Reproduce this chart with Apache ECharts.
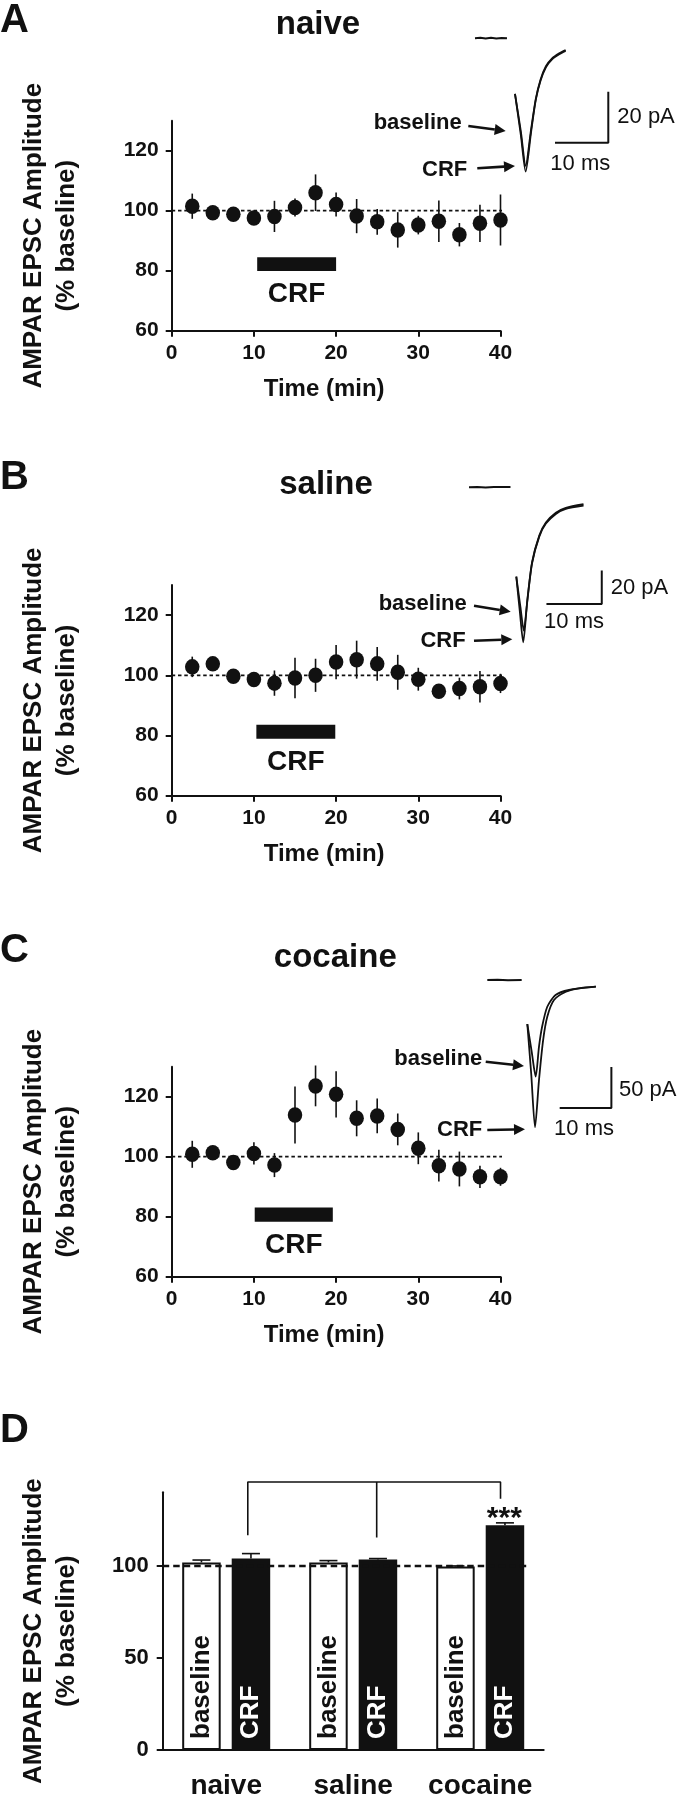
<!DOCTYPE html>
<html><head><meta charset="utf-8">
<script src="https://cdn.jsdelivr.net/npm/echarts@6/dist/echarts.min.js"></script>
<style>html,body{margin:0;padding:0;background:#fff}#c{width:679px;height:1800px}</style>
</head><body><div id="c"></div>
<script>
// ---------------- data ----------------
const times = [2.5, 5, 7.5, 10, 12.5, 15, 17.5, 20, 22.5, 25, 27.5, 30, 32.5, 35, 37.5, 40];
const naiveMean = [101.5, 99.3, 98.8, 97.6, 98.1, 101.1, 106.0, 102.1, 98.2, 96.3, 93.6, 95.2, 96.5, 92.0, 95.8, 96.9];
const naiveErr  = [4.2, 1.0, 1.0, 1.0, 5.2, 3.0, 6.1, 4.0, 5.7, 4.3, 5.9, 3.1, 6.9, 3.9, 6.2, 8.5];
const salineMean = [102.8, 103.8, 99.7, 98.6, 97.4, 99.1, 100.0, 104.4, 105.2, 103.8, 101.0, 98.7, 94.7, 95.6, 96.2, 97.3];
const salineErr  = [3.4, 1.5, 1.0, 1.0, 4.2, 6.7, 5.5, 5.7, 6.3, 5.6, 5.8, 3.8, 2.0, 3.6, 5.2, 3.2];
const cocaineMean = [100.8, 101.3, 98.1, 101.1, 97.2, 113.9, 123.6, 120.8, 112.8, 113.6, 109.1, 102.8, 97.0, 95.9, 93.3, 93.3];
const cocaineErr  = [4.5, 1.0, 1.0, 3.7, 4.0, 9.5, 6.8, 7.7, 6.0, 5.8, 5.3, 5.3, 5.3, 5.8, 3.7, 3.0];

const timeTicks = [0, 10, 20, 30, 40];
const ampTicks = [60, 80, 100, 120];
const barTicks = [0, 50, 100];

// CRF application bar (min, % baseline) per panel A, B, C
const crfStart = [10.4, 10.3, 10.1];
const crfEnd   = [20.0, 19.9, 19.6];
const crfLow   = [79.9, 78.9, 78.3];
const crfHigh  = [84.5, 83.6, 83.1];
const refLineX = [0, 41];
const refValue = 100;

// example EPSC traces: [time ms, current pA]
const naiveFlat = [[0, 0], [1, 0.15], [2, -0.1], [3, 0.15], [4, -0.1], [5, 0.1], [6, 0]];
const naiveBase = [[7.5, -21.8], [8.6, -36.5], [9.5, -50.0], [10.5, -36.0], [11.4, -23.8], [12.3, -16.2], [13.3, -11.0], [14.5, -7.8], [15.8, -5.9], [17.0, -4.6]];
const naiveCrf  = [[7.5, -21.8], [8.6, -38.0], [9.5, -52.3], [10.5, -37.1], [11.4, -24.2], [12.3, -16.6], [13.3, -11.4], [14.5, -8.2], [15.8, -6.3], [17.0, -5.0]];
const salineFlat = [[0, 0], [1.5, 0.2], [3, -0.2], [4.5, 0.2], [6, 0.1], [7.5, 0.2]];
const salineBase = [[8.55, -53.6], [9.3, -72.0], [9.9, -86.0], [10.6, -66.0], [11.4, -45.0], [12.7, -29.0], [13.9, -21.2], [15.7, -15.3], [17.5, -12.4], [20.7, -10.2]];
const salineCrf  = [[8.55, -53.6], [9.2, -75.0], [9.8, -93.0], [10.5, -69.6], [11.4, -45.6], [12.7, -29.6], [13.9, -21.8], [15.7, -16.0], [17.5, -13.0], [20.7, -11.0]];
const cocaineFlat = [[0, 0], [2, 0.3], [4, -0.3], [6.65, 0]];
const cocaineBase = [[7.74, -53.7], [8.6, -88.0], [9.36, -117.9], [10.0, -81.3], [10.6, -57.0], [11.6, -32.6], [13.2, -18.3], [15.8, -12.2], [21.0, -8.2]];
const cocaineCrf  = [[7.74, -53.7], [8.5, -115.0], [9.23, -179.6], [10.0, -122.0], [10.8, -73.2], [11.6, -44.8], [12.9, -24.4], [15.2, -14.3], [17.7, -10.1], [21.0, -8.2]];
// scale bars: [t0, t1] ms, [pA0, pA1]
const scaleT  = [[15, 25], [14, 24], [14, 24]];
const scalePA = [[-41, -21], [-70, -50], [-156, -106]];
const scaleLabelsPA = ['20 pA', '20 pA', '50 pA'];
const scaleLabelMs = '10 ms';

// panel D
const groups = ['naive', 'saline', 'cocaine'];
const baselineMean = [101.9, 101.9, 99.7];
const baselineErr  = [1.3, 1.0, 0.3];
const crfMean = [104.1, 103.5, 122.1];
const crfErr  = [2.6, 0.5, 1.3];
const bracketX = [0.67, 1.685, 2.66];        // position in category units
const bracketBottom = [116.7, 115.5, 136.5];
const bracketTop = 145.6;
const sigMark = { x: 2.69, y: 125.4, text: '***' };
const refLineBarX = [0, 2.866];

// ---------------- layout / style ----------------
const FONT = '"Liberation Sans", Arial, Helvetica, sans-serif';
const INK = '#111';
const timeGrids = [
  { left: 171.7, top: 120.7, width: 328.8, height: 210 },
  { left: 171.7, top: 585, width: 328.8, height: 210.7 },
  { left: 171.7, top: 1066.7, width: 328.8, height: 210 }
];
const traceGrids = [
  { left: 475, top: 25.5, width: 133.3, height: 153, y: [-55, 5] },
  { left: 469, top: 470.6, width: 138.3, height: 183.3, y: [-100, 10] },
  { left: 487.3, top: 971.8, width: 129.25, height: 164, y: [-190, 10] }
];
const barGrid = { left: 162.7, top: 1492.3, width: 381, height: 265.4 };

const means = [naiveMean, salineMean, cocaineMean];
const errs = [naiveErr, salineErr, cocaineErr];
const flats = [naiveFlat, salineFlat, cocaineFlat];
const bases = [naiveBase, salineBase, cocaineBase];
const crfs = [naiveCrf, salineCrf, cocaineCrf];

const grid = [], xAxis = [], yAxis = [], series = [];

function errRender(params, api) {
  const x = api.value(0), m = api.value(1), e = api.value(2);
  const p1 = api.coord([x, m - e]), p2 = api.coord([x, m + e]);
  return { type: 'line', shape: { x1: p1[0], y1: p1[1], x2: p2[0], y2: p2[1] },
           style: { stroke: INK, lineWidth: 1.6 } };
}

for (let k = 0; k < 3; k++) {
  grid.push(timeGrids[k]);
  xAxis.push({
    type: 'value', gridIndex: k, min: 0, max: 40, interval: 10,
    axisLine: { show: true, onZero: false, lineStyle: { color: INK, width: 2 } },
    axisTick: { show: true, length: 6, lineStyle: { color: INK, width: 2 }, customValues: timeTicks },
    axisLabel: { fontFamily: FONT, fontSize: 21, fontWeight: 'bold', color: INK, margin: 12, customValues: timeTicks },
    splitLine: { show: false },
    name: 'Time (min)', nameLocation: 'middle', nameGap: 47,
    nameTextStyle: { fontFamily: FONT, fontSize: 24, fontWeight: 'bold', color: INK, padding: [0, 24, 0, 0] }
  });
  yAxis.push({
    type: 'value', gridIndex: k, min: 60, max: 130, interval: 20,
    axisLine: { show: true, lineStyle: { color: INK, width: 2 } },
    axisTick: { show: true, length: 6, lineStyle: { color: INK, width: 2 }, customValues: ampTicks },
    axisLabel: { fontFamily: FONT, fontSize: 21, fontWeight: 'bold', color: INK, margin: 13, customValues: ampTicks },
    splitLine: { show: false },
    name: 'AMPAR EPSC Amplitude\n(% baseline)', nameLocation: 'middle', nameRotate: 90, nameGap: 88,
    nameTextStyle: { fontFamily: FONT, fontSize: 26, fontWeight: 'bold', color: INK, lineHeight: 33, padding: [0, 20, 0, 0] }
  });
  // dashed reference line
  series.push({
    type: 'line', xAxisIndex: k, yAxisIndex: k, symbol: 'none', silent: true, z: 2,
    data: refLineX.map(x => [x, refValue]),
    lineStyle: { color: INK, width: 1.8, type: [3.5, 2.8] }
  });
  // CRF bar
  series.push({
    type: 'custom', xAxisIndex: k, yAxisIndex: k, z: 3,
    data: [[crfStart[k], crfLow[k], crfEnd[k], crfHigh[k]]],
    encode: { x: [0, 2], y: [1, 3] },
    renderItem(params, api) {
      const p0 = api.coord([api.value(0), api.value(3)]);
      const p1 = api.coord([api.value(2), api.value(1)]);
      return { type: 'group', children: [
        { type: 'rect', shape: { x: p0[0], y: p0[1], width: p1[0] - p0[0], height: p1[1] - p0[1] }, style: { fill: INK } },
        { type: 'text', style: { text: 'CRF', x: (p0[0] + p1[0]) / 2, y: p1[1] + 23.5,
            align: 'center', verticalAlign: 'middle', textAlign: 'center', textVerticalAlign: 'middle',
            font: 'bold 28px ' + FONT, fill: INK } }
      ] };
    }
  });
  // error bars
  series.push({
    type: 'custom', xAxisIndex: k, yAxisIndex: k, z: 4,
    data: times.map((t, i) => [t, means[k][i], errs[k][i]]),
    encode: { x: 0, y: 1 },
    renderItem: errRender
  });
  // means
  series.push({
    type: 'scatter', xAxisIndex: k, yAxisIndex: k, z: 5,
    symbol: 'circle', symbolSize: [14.5, 15.5],
    itemStyle: { color: INK, opacity: 1 },
    data: times.map((t, i) => [t, means[k][i]])
  });
}

// trace insets
for (let k = 0; k < 3; k++) {
  const gi = 3 + k;
  const g = traceGrids[k];
  grid.push({ left: g.left, top: g.top, width: g.width, height: g.height });
  xAxis.push({ type: 'value', gridIndex: gi, min: 0, max: 25, show: false, splitLine: { show: false } });
  yAxis.push({ type: 'value', gridIndex: gi, min: g.y[0], max: g.y[1], show: false, splitLine: { show: false } });
  const common = { type: 'line', xAxisIndex: gi, yAxisIndex: gi, symbol: 'none', silent: true, clip: false };
  series.push(Object.assign({}, common, { data: flats[k], lineStyle: { color: INK, width: 2 } }));
  series.push(Object.assign({}, common, { data: bases[k], smooth: 0.25, lineStyle: { color: INK, width: 1.8 } }));
  series.push(Object.assign({}, common, { data: crfs[k], smooth: 0.25, lineStyle: { color: INK, width: 1.8 } }));
  series.push(Object.assign({}, common, {
    data: [[scaleT[k][0], scalePA[k][0]], [scaleT[k][1], scalePA[k][0]], [scaleT[k][1], scalePA[k][1]]],
    lineStyle: { color: INK, width: 2 }
  }));
}

// panel D
grid.push(barGrid);
xAxis.push({
  type: 'category', gridIndex: 6, data: groups,
  axisLine: { show: true, lineStyle: { color: INK, width: 2 } },
  axisTick: { show: false },
  axisLabel: { interval: 0, fontFamily: FONT, fontSize: 28, fontWeight: 'bold', color: INK, margin: 22 }
});
xAxis.push({ type: 'value', gridIndex: 6, min: 0, max: 3, show: false, splitLine: { show: false } });
yAxis.push({
  type: 'value', gridIndex: 6, min: 0, max: 140, interval: 50,
  axisLine: { show: true, lineStyle: { color: INK, width: 2 } },
  axisTick: { show: true, length: 6, lineStyle: { color: INK, width: 2 }, customValues: barTicks },
  axisLabel: { fontFamily: FONT, fontSize: 22, fontWeight: 'bold', color: INK, margin: 14, customValues: barTicks },
  splitLine: { show: false },
  name: 'AMPAR EPSC Amplitude\n(% baseline)', nameLocation: 'middle', nameRotate: 90, nameGap: 79.5,
  nameTextStyle: { fontFamily: FONT, fontSize: 26, fontWeight: 'bold', color: INK, lineHeight: 33, padding: [0, 20, 0, 0] }
});
const barLabel = (color) => ({
  show: true, formatter: '{a}', position: 'insideBottom', rotate: 90, align: 'left', verticalAlign: 'middle',
  distance: 11, fontFamily: FONT, fontSize: 26, fontWeight: 'bold', color
});
series.push({
  type: 'bar', name: 'baseline', xAxisIndex: 6, yAxisIndex: 6, barWidth: 38.5, barGap: '28.6%', z: 2,
  data: baselineMean, itemStyle: { color: '#fff', borderColor: INK, borderWidth: 2 }, label: barLabel(INK)
});
series.push({
  type: 'bar', name: 'CRF', xAxisIndex: 6, yAxisIndex: 6, barWidth: 38.5, z: 2,
  data: crfMean, itemStyle: { color: INK }, label: barLabel('#fff')
});
const BAR_OFFSET = 24.75;
function barErr(sign) {
  return function (params, api) {
    const c = api.value(0), m = api.value(1), e = api.value(2);
    const p1 = api.coord([c, m]), p2 = api.coord([c, m + e]);
    const x = p1[0] + sign * BAR_OFFSET;
    return { type: 'group', children: [
      { type: 'line', shape: { x1: x, y1: p1[1], x2: x, y2: p2[1] }, style: { stroke: INK, lineWidth: 1.6 } },
      { type: 'line', shape: { x1: x - 9, y1: p2[1], x2: x + 9, y2: p2[1] }, style: { stroke: INK, lineWidth: 1.6 } }
    ] };
  };
}
series.push({ type: 'custom', xAxisIndex: 6, yAxisIndex: 6, z: 4, encode: { x: 0, y: 1 },
  data: baselineMean.map((m, i) => [i, m, baselineErr[i]]), renderItem: barErr(-1) });
series.push({ type: 'custom', xAxisIndex: 6, yAxisIndex: 6, z: 4, encode: { x: 0, y: 1 },
  data: crfMean.map((m, i) => [i, m, crfErr[i]]), renderItem: barErr(1) });
// dashed 100% line
series.push({ type: 'line', xAxisIndex: 7, yAxisIndex: 6, symbol: 'none', silent: true, z: 6,
  data: refLineBarX.map(x => [x, refValue]), lineStyle: { color: INK, width: 2.4, type: [6.5, 4] } });
// significance bracket
series.push({ type: 'line', xAxisIndex: 7, yAxisIndex: 6, symbol: 'none', silent: true, clip: false, z: 6,
  data: [[bracketX[0], bracketBottom[0]], [bracketX[0], bracketTop], [bracketX[2], bracketTop], [bracketX[2], bracketBottom[2]]],
  lineStyle: { color: INK, width: 1.6 } });
series.push({ type: 'line', xAxisIndex: 7, yAxisIndex: 6, symbol: 'none', silent: true, clip: false, z: 6,
  data: [[bracketX[1], bracketTop], [bracketX[1], bracketBottom[1]]],
  lineStyle: { color: INK, width: 1.6 } });
series.push({ type: 'scatter', xAxisIndex: 7, yAxisIndex: 6, symbolSize: 1, silent: true, clip: false, z: 6,
  itemStyle: { color: 'rgba(0,0,0,0)', opacity: 1 },
  data: [[sigMark.x, sigMark.y]],
  label: { show: true, position: 'inside', formatter: sigMark.text, fontFamily: FONT, fontSize: 30, fontWeight: 'bold', color: INK, opacity: 1 } });

// ---------------- annotations ----------------
function txt(text, x, y, size, weight, align) {
  return { type: 'text', x: x, y: y, z: 100, style: {
    text: text, font: (weight || 'bold') + ' ' + size + 'px ' + FONT, fill: INK,
    align: align || 'center', verticalAlign: 'middle', textAlign: align || 'center', textVerticalAlign: 'middle' } };
}
function arrow(x1, y1, x2, y2) {
  const ang = Math.atan2(y2 - y1, x2 - x1), L = 11, W = 5.5;
  const bx = x2 - L * Math.cos(ang), by = y2 - L * Math.sin(ang);
  const nx = -Math.sin(ang), ny = Math.cos(ang);
  return [
    { type: 'line', z: 100, shape: { x1: x1, y1: y1, x2: bx, y2: by }, style: { stroke: INK, lineWidth: 2.6 } },
    { type: 'polygon', z: 100, shape: { points: [[x2, y2], [bx + nx * W, by + ny * W], [bx - nx * W, by - ny * W]] }, style: { fill: INK } }
  ];
}
const graphic = [
  txt('A', 0, 20.9, 40, 'bold', 'left'),
  txt('B', 0, 477.6, 40, 'bold', 'left'),
  txt('C', 0, 950.6, 40, 'bold', 'left'),
  txt('D', 0, 1430.9, 40, 'bold', 'left'),
  txt('naive', 318, 24.8, 33),
  txt('saline', 326, 484.8, 33),
  txt('cocaine', 335.3, 957.8, 33),
  // panel A inset labels
  txt('baseline', 461.7, 123, 22, 'bold', 'right'),
  txt('CRF', 467.3, 169.5, 22, 'bold', 'right'),
  txt(scaleLabelsPA[0], 617.3, 117, 22, 'normal', 'left'),
  txt(scaleLabelMs, 580.3, 163.5, 22, 'normal'),
  // panel B
  txt('baseline', 466.7, 603.5, 22, 'bold', 'right'),
  txt('CRF', 465.7, 641, 22, 'bold', 'right'),
  txt(scaleLabelsPA[1], 610.7, 588, 22, 'normal', 'left'),
  txt(scaleLabelMs, 574, 622, 22, 'normal'),
  // panel C
  txt('baseline', 482.3, 1058.5, 22, 'bold', 'right'),
  txt('CRF', 482.3, 1130, 22, 'bold', 'right'),
  txt(scaleLabelsPA[2], 619, 1089.5, 22, 'normal', 'left'),
  txt(scaleLabelMs, 584, 1128.5, 22, 'normal')
].concat(
  arrow(468.3, 126, 505.7, 131), arrow(477.3, 168.3, 515, 166),
  arrow(474, 605.7, 510.7, 611.7), arrow(474, 640.7, 512.3, 639.3),
  arrow(485.7, 1061.7, 524, 1066), arrow(487.3, 1130, 525, 1129.3)
);

const chart = echarts.init(document.getElementById('c'), null, { renderer: 'canvas', width: 679, height: 1800 });
chart.setOption({
  backgroundColor: '#fff',
  animation: false,
  textStyle: { fontFamily: FONT },
  grid: grid, xAxis: xAxis, yAxis: yAxis, series: series, graphic: graphic
});
</script></body></html>
